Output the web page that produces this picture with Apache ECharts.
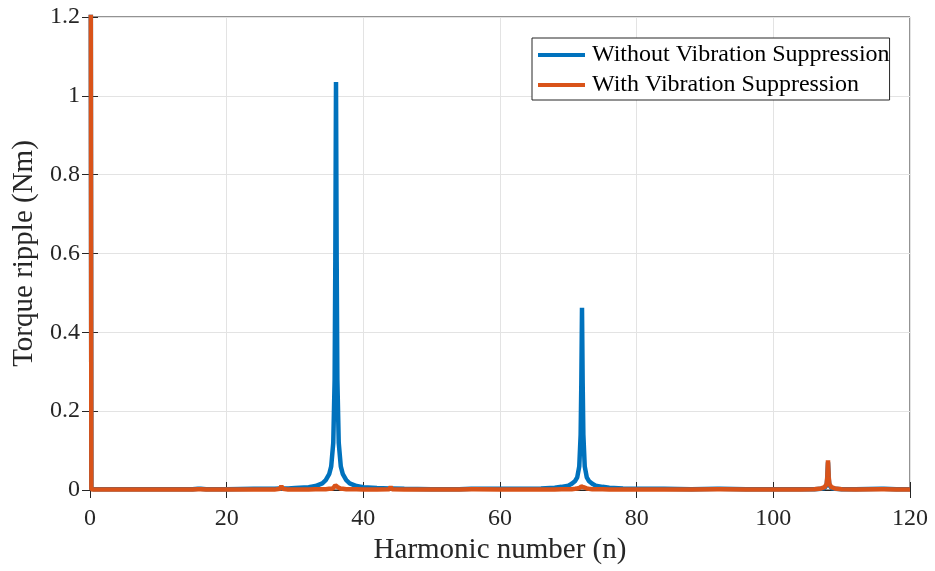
<!DOCTYPE html>
<html lang="en">
<head>
    <meta charset="UTF-8">
    <title>Torque ripple spectrum</title>
    <script src="https://cdn.jsdelivr.net/npm/echarts@6/dist/echarts.min.js"></script>
</head>
<body style="margin:0;background:#fff;">
<div id="main" style="width: 935px;height:571px;"></div>
<script type="text/javascript">
    // harmonic order samples (shared by both curves)
    var harmonic = [
        0, 0.2, 0.5, 1, 2, 4, 6, 8, 10, 12,
        14, 15, 15.8, 16, 16.2, 17, 20, 24, 26, 27,
        27.8, 28, 28.2, 29, 30, 32, 33, 34, 34.5, 35,
        35.3, 35.6, 35.8, 35.9, 36, 36.1, 36.2, 36.4, 36.7, 37,
        37.5, 38, 39, 40, 42, 43.8, 44, 44.2, 46, 50,
        54, 55.8, 56, 56.2, 60, 64, 66, 68, 69, 70,
        70.5, 71, 71.3, 71.6, 71.8, 71.9, 72, 72.1, 72.2, 72.4,
        72.7, 73, 73.5, 74, 75, 76, 78, 80, 84, 88,
        91.8, 92, 92.2, 96, 100, 104, 106, 107, 107.5, 107.8,
        107.9, 108, 108.1, 108.2, 108.5, 109, 110, 112, 115.8, 116,
        116.2, 118, 120
    ];
    var rippleWithout = [
        3.0, 0.004, 0.002, 0.002, 0.002, 0.002, 0.002, 0.002, 0.002, 0.002,
        0.002, 0.002, 0.003, 0.006, 0.003, 0.002, 0.002, 0.003, 0.003, 0.003,
        0.004, 0.009, 0.004, 0.004, 0.005, 0.007, 0.01, 0.017, 0.025, 0.04,
        0.06, 0.12, 0.28, 0.58, 1.035, 0.58, 0.28, 0.12, 0.06, 0.04,
        0.025, 0.017, 0.01, 0.007, 0.005, 0.004, 0.007, 0.004, 0.003, 0.002,
        0.002, 0.003, 0.004, 0.003, 0.003, 0.003, 0.004, 0.006, 0.008, 0.011,
        0.016, 0.023, 0.032, 0.06, 0.14, 0.27, 0.462, 0.27, 0.14, 0.06,
        0.032, 0.023, 0.016, 0.011, 0.008, 0.006, 0.004, 0.003, 0.003, 0.002,
        0.003, 0.004, 0.003, 0.002, 0.002, 0.002, 0.002, 0.003, 0.005, 0.012,
        0.03, 0.07, 0.03, 0.012, 0.005, 0.003, 0.002, 0.002, 0.003, 0.005,
        0.003, 0.002, 0.002
    ];
    var rippleWith = [
        3.0, 0.002, 0.001, 0.001, 0.001, 0.001, 0.001, 0.001, 0.001, 0.001,
        0.001, 0.001, 0.002, 0.006, 0.002, 0.001, 0.001, 0.001, 0.001, 0.001,
        0.003, 0.01, 0.003, 0.001, 0.001, 0.001, 0.002, 0.002, 0.002, 0.003,
        0.003, 0.005, 0.008, 0.012, 0.016, 0.012, 0.008, 0.005, 0.003, 0.003,
        0.002, 0.002, 0.002, 0.001, 0.001, 0.002, 0.008, 0.002, 0.001, 0.001,
        0.001, 0.002, 0.004, 0.002, 0.001, 0.001, 0.001, 0.001, 0.002, 0.002,
        0.002, 0.003, 0.004, 0.005, 0.007, 0.009, 0.012, 0.009, 0.007, 0.005,
        0.004, 0.003, 0.002, 0.002, 0.002, 0.001, 0.001, 0.001, 0.001, 0.001,
        0.002, 0.004, 0.002, 0.001, 0.001, 0.001, 0.002, 0.004, 0.007, 0.015,
        0.035, 0.075, 0.035, 0.015, 0.007, 0.004, 0.002, 0.001, 0.002, 0.006,
        0.002, 0.001, 0.001
    ];
    var xTicks = [0, 20, 40, 60, 80, 100, 120];
    var yTicks = [0, 0.2, 0.4, 0.6, 0.8, 1, 1.2];
    var seriesNames = ['Without Vibration Suppression', 'With Vibration Suppression'];

    function pairs(ys) {
        return harmonic.map(function (x, i) { return [x, ys[i]]; });
    }

    var font = 'Liberation Serif';
    var axisColor = '#262626';

    var baseX = {
        type: 'value', min: xTicks[0], max: xTicks[xTicks.length - 1],
        interval: xTicks[1] - xTicks[0]
    };
    var baseY = {
        type: 'value', min: yTicks[0], max: yTicks[yTicks.length - 1],
        interval: 0.2
    };

    var option = {
        animation: false,
        backgroundColor: '#fff',
        grid: {
            left: 90, right: 25, top: 17, bottom: 81,
            outerBoundsMode: 'none', containLabel: false,
            show: true, borderColor: axisColor, borderWidth: 1
        },
        legend: {
            orient: 'vertical',
            left: 532, top: 38,
            padding: [5, 0, 3, 6],
            itemGap: 6,
            icon: 'rect',
            itemWidth: 47, itemHeight: 4,
            backgroundColor: '#fff',
            borderColor: axisColor, borderWidth: 1,
            textStyle: {fontFamily: font, fontSize: 24, color: '#000', padding: [0, 0, 0, 2]},
            data: seriesNames
        },
        xAxis: [
            Object.assign({}, baseX, {
                position: 'bottom',
                name: 'Harmonic number (n)', nameLocation: 'middle', nameGap: 46,
                nameTextStyle: {fontFamily: font, fontSize: 29, color: axisColor},
                axisLine: {lineStyle: {color: axisColor}},
                axisTick: {inside: true, length: 8, lineStyle: {color: axisColor}},
                axisLabel: {fontFamily: font, fontSize: 24, color: axisColor, margin: 17},
                splitLine: {show: true, lineStyle: {color: '#e3e3e3'}}
            }),
            Object.assign({}, baseX, {
                position: 'top',
                axisLine: {lineStyle: {color: axisColor}},
                axisTick: {inside: true, length: 8, lineStyle: {color: axisColor}},
                axisLabel: {show: false},
                splitLine: {show: false}
            })
        ],
        yAxis: [
            Object.assign({}, baseY, {
                position: 'left',
                name: 'Torque ripple (Nm)', nameLocation: 'middle', nameGap: 50,
                nameTextStyle: {fontFamily: font, fontSize: 29, color: axisColor},
                axisLine: {show: true, lineStyle: {color: axisColor}},
                axisTick: {show: true, inside: true, length: 8, lineStyle: {color: axisColor}},
                axisLabel: {fontFamily: font, fontSize: 24, color: axisColor, margin: 10},
                splitLine: {show: true, lineStyle: {color: '#e3e3e3'}}
            }),
            Object.assign({}, baseY, {
                position: 'right',
                axisLine: {show: true, lineStyle: {color: axisColor}},
                axisTick: {show: true, inside: true, length: 8, lineStyle: {color: axisColor}},
                axisLabel: {show: false},
                splitLine: {show: false}
            })
        ],
        series: [
            {
                name: seriesNames[0], type: 'line', symbol: 'none',
                xAxisIndex: 0, yAxisIndex: 0,
                lineStyle: {color: '#0072BD', width: 4.5},
                itemStyle: {color: '#0072BD'},
                data: pairs(rippleWithout)
            },
            {
                name: seriesNames[1], type: 'line', symbol: 'none',
                xAxisIndex: 0, yAxisIndex: 0,
                lineStyle: {color: '#D95319', width: 4.5},
                itemStyle: {color: '#D95319'},
                data: pairs(rippleWith)
            }
        ]
    };

    var myChart = echarts.init(document.getElementById('main'));
    myChart.setOption(option);
</script>
</body>
</html>
